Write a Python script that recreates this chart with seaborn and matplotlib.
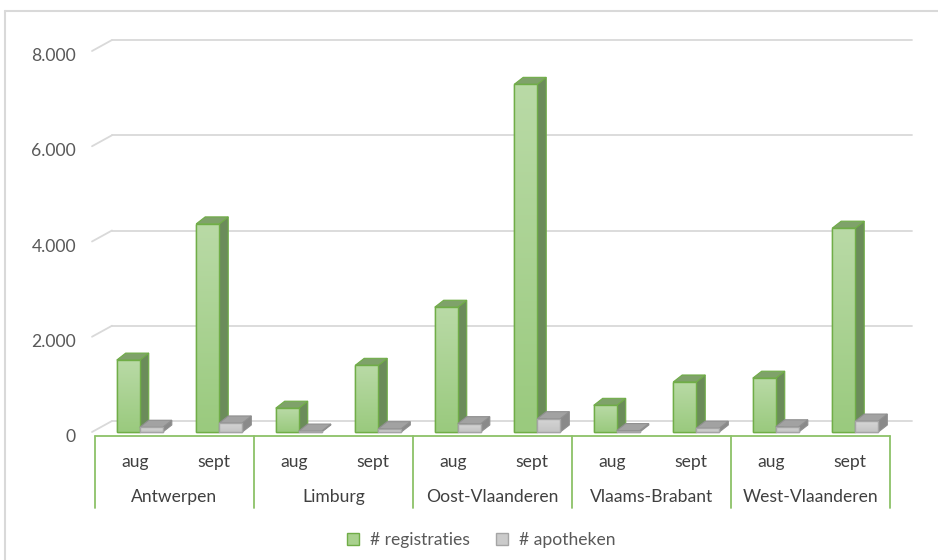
import numpy as np
import pandas as pd
import matplotlib
matplotlib.use("Agg")
import matplotlib.pyplot as plt
import seaborn as sns
from matplotlib import transforms
from matplotlib.patches import Polygon, Patch
from matplotlib.lines import Line2D
from matplotlib.colors import LinearSegmentedColormap

# ---------------- data ----------------
regions = ["Antwerpen", "Limburg", "Oost-Vlaanderen", "Vlaams-Brabant", "West-Vlaanderen"]
months = ["aug", "sept"]
series_names = ["# registraties", "# apotheken"]
registraties = [1510, 4370, 500, 1400, 2620, 7300, 560, 1050, 1130, 4280]
apotheken = [100, 190, 20, 70, 175, 280, 30, 80, 110, 230]
y_ticks = [0, 2000, 4000, 6000, 8000]
y_tick_labels = ["0", "2.000", "4.000", "6.000", "8.000"]

slots = [f"{r}|{m}" for r in regions for m in months]
df = pd.DataFrame({
    "slot": slots * 2,
    "series": [series_names[0]] * len(slots) + [series_names[1]] * len(slots),
    "value": registraties + apotheken,
})

# ---------------- style ----------------
sns.set_theme(style="white")
plt.rcParams["font.family"] = ["Lato", "DejaVu Sans"]

GREEN_FRONT = "#A9D18E"
GREEN_EDGE = "#70AD47"
GREEN_SIDE = "#6B8C5A"
GREEN_TOP = "#7FA26A"
GREY_FRONT = "#CBCBCB"
GREY_EDGE = "#A5A5A5"
GREY_SIDE = "#8A8A8A"
GREY_TOP = "#A2A2A2"
GRID = "#D9D9D9"
AXIS_GREEN = "#8CC168"
TXT = "#595959"
CAT_TXT = "#404040"
FS = 12.6

W, H = 938, 560
fig = plt.figure(figsize=(W / 100, H / 100), dpi=100)
fig.patch.set_facecolor("white")

# axes: value 0 at y=432 px, 8000 at y=51 px; slots span x 95..890 px
ax = fig.add_axes([95 / W, (H - 432) / H, 795 / W, (432 - 51) / H])
sns.barplot(data=df, x="slot", y="value", hue="series", order=slots,
            hue_order=series_names, palette=[GREEN_FRONT, GREY_FRONT],
            width=0.58, saturation=1, dodge=True, ax=ax, legend=False)
ax.set_xlim(-0.5, len(slots) - 0.5)
ax.set_ylim(0, 8000)
ax.axis("off")

sx = (len(slots)) / 795.0      # data units per pixel (x)
sy = 8000 / 381.0              # data units per pixel (y)

shift = transforms.ScaledTranslation(5 / 100, 0, fig.dpi_scale_trans)
tr = ax.transData + shift

ddx, ddy = 9 * sx, 7 * sy  # bar depth

grad_cmaps = [
    LinearSegmentedColormap.from_list("g", ["#9ACA7E", "#B9DAA6"]),
    LinearSegmentedColormap.from_list("k", ["#C4C4C4", "#D6D6D6"]),
]
styles = [
    (GREEN_FRONT, GREEN_EDGE, GREEN_SIDE, GREEN_TOP, 3, GREEN_EDGE),
    (GREY_FRONT, GREY_EDGE, GREY_SIDE, GREY_TOP, 4, "#8F8F8F"),
]
grad = np.linspace(0, 1, 64).reshape(-1, 1)
for cont, (fc, ec, sc, tc, z, pec), cm in zip(ax.containers, styles, grad_cmaps):
    for bar in cont:
        bar.set_transform(tr)
        bar.set_edgecolor(ec)
        bar.set_linewidth(1.0)
        bar.set_zorder(z)
        bar.set_clip_on(False)
        x0, w, h = bar.get_x(), bar.get_width(), bar.get_height()
        im = ax.imshow(grad, cmap=cm, aspect="auto", origin="lower",
                       extent=(x0, x0 + w, 0, h), zorder=z + 0.01,
                       interpolation="bilinear")
        im.set_transform(tr)
        im.set_clip_path(bar)
        # redraw edge above the gradient
        ax.add_patch(matplotlib.patches.Rectangle((x0, 0), w, h, facecolor="none",
                                                  edgecolor=ec, linewidth=1.0,
                                                  transform=tr, clip_on=False,
                                                  zorder=z + 0.02))
        side = [(x0 + w, 0), (x0 + w, h), (x0 + w + ddx, h + ddy), (x0 + w + ddx, ddy)]
        top = [(x0, h), (x0 + w, h), (x0 + w + ddx, h + ddy), (x0 + ddx, h + ddy)]
        ax.add_patch(Polygon(side, closed=True, facecolor=sc, edgecolor=pec,
                             linewidth=0.8, transform=tr, clip_on=False, zorder=z))
        ax.add_patch(Polygon(top, closed=True, facecolor=tc, edgecolor=pec,
                             linewidth=0.8, transform=tr, clip_on=False, zorder=z))
ax.set_xlim(-0.5, len(slots) - 0.5)
ax.set_ylim(0, 8000)

# back wall gridlines + left wall diagonals
bx, by = 17 * sx, 11 * sy
for v, lab in zip(y_ticks, y_tick_labels):
    ax.add_line(Line2D([-0.5 + bx, len(slots) - 0.5 + 22 * sx], [v + by, v + by],
                       color=GRID, lw=1.3, clip_on=False, zorder=1))
    ax.add_line(Line2D([-0.5 - 3 * sx, -0.5 + bx], [v, v + by],
                       color=GRID, lw=1.3, clip_on=False, zorder=1))
    ax.text(-0.5 - 19 * sx, v - 5 * sy, lab, ha="right", va="center",
            color=TXT, fontsize=FS)

# category axis (two levels)
bt = transforms.blended_transform_factory(ax.transData, fig.transFigure)
def fy(px):
    return 1 - px / H

fig.add_artist(Line2D([-0.5, len(slots) - 0.5], [fy(436), fy(436)], transform=bt,
                      color=AXIS_GREEN, lw=1.3))
for k in range(len(regions) + 1):
    xk = -0.5 + 2 * k
    fig.add_artist(Line2D([xk, xk], [fy(436), fy(508)], transform=bt,
                          color=AXIS_GREEN, lw=1.3))
for i, s in enumerate(slots):
    fig.text(i, fy(462), s.split("|")[1], transform=bt, ha="center", va="center",
             color=CAT_TXT, fontsize=FS)
for k, r in enumerate(regions):
    fig.text(2 * k + 0.5, fy(497), r, transform=bt, ha="center", va="center",
             color=CAT_TXT, fontsize=FS)

# legend
handles = [Patch(facecolor=GREEN_FRONT, edgecolor=GREEN_EDGE),
           Patch(facecolor=GREY_FRONT, edgecolor=GREY_EDGE)]
fig.legend(handles=handles, labels=series_names, loc="center",
           bbox_to_anchor=(481 / W, fy(540)), ncol=2, frameon=False, fontsize=FS,
           handlelength=0.7, handleheight=0.7, columnspacing=1.5, handletextpad=0.6,
           labelcolor=TXT)

# chart border (left and top visible)
fig.add_artist(Line2D([4.5 / W, 4.5 / W], [0, fy(11)], transform=fig.transFigure, color=GRID, lw=1.5))
fig.add_artist(Line2D([4.5 / W, 1], [fy(11), fy(11)], transform=fig.transFigure, color=GRID, lw=1.5))

fig.savefig("out.png", dpi=100)
